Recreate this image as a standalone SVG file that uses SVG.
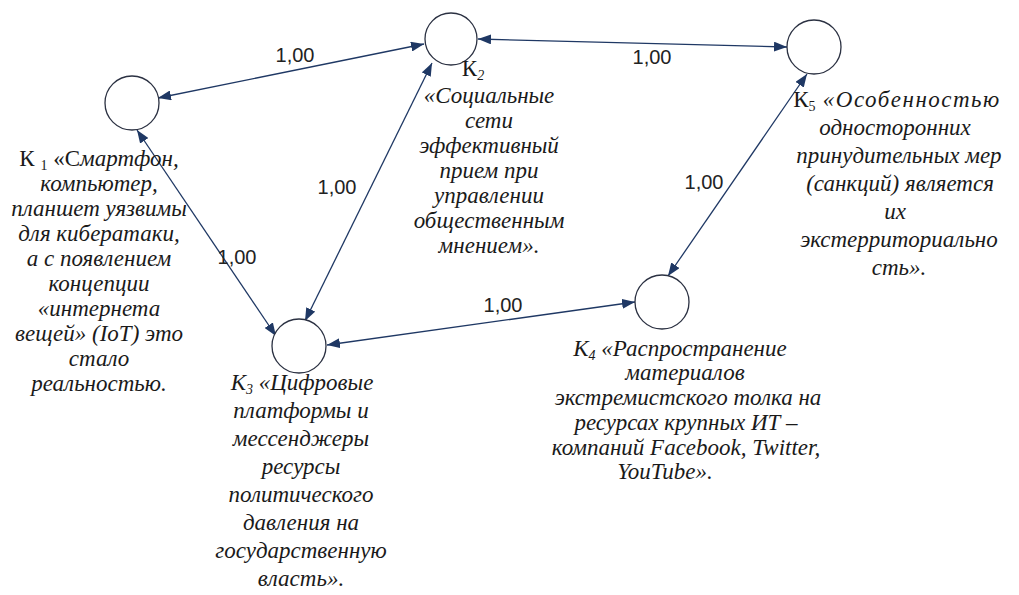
<svg xmlns="http://www.w3.org/2000/svg" width="1019" height="595" viewBox="0 0 1019 595">
<style>
.bg{fill:#ffffff}
.node{fill:#ffffff;stroke:#2b3142;stroke-width:1.3}
.edge{stroke:#1f3864;stroke-width:1.3;fill:none;marker-start:url(#ah);marker-end:url(#ah)}
.lbl{font-family:"Liberation Sans",Arial,sans-serif;font-size:20px;fill:#222;text-anchor:middle}
.t{font-family:"Liberation Serif","Times New Roman",serif;font-size:23px;font-style:italic;fill:#1a1a1a;text-anchor:middle}
.up{font-style:normal}
.sub{font-size:14px}
</style>
<defs>
<marker id="ah" markerUnits="userSpaceOnUse" markerWidth="13" markerHeight="10" refX="13" refY="5" orient="auto-start-reverse">
<path d="M0,0 L13,5 L0,10 z" fill="#1f3864"/>
</marker>
</defs>
<rect class="bg" x="0" y="0" width="1019" height="595"/>
<g id="connectors">
<line class="edge" x1="158" y1="98" x2="424" y2="44"/>
<line class="edge" x1="478" y1="39" x2="787" y2="47"/>
<line class="edge" x1="137" y1="130" x2="276" y2="336"/>
<line class="edge" x1="432" y1="63" x2="305" y2="321"/>
<line class="edge" x1="807" y1="74" x2="668" y2="276"/>
<line class="edge" x1="327" y1="345" x2="635" y2="302"/>
<text class="lbl" x="295" y="62">1,00</text>
<text class="lbl" x="652" y="64">1,00</text>
<text class="lbl" x="237" y="264">1,00</text>
<text class="lbl" x="337" y="194">1,00</text>
<text class="lbl" x="704" y="189">1,00</text>
<text class="lbl" x="503" y="312">1,00</text>
</g>
<g id="K1">
<circle class="node" cx="132" cy="103" r="27"/>
<text class="t" x="99" y="166"><tspan class="up">К </tspan><tspan class="up sub" dy="4">1</tspan><tspan class="up" dy="-4">  «С</tspan>мартфон,</text>
<text class="t" x="99" y="191">компьютер,</text>
<text class="t" x="99" y="216">планшет уязвимы</text>
<text class="t" x="99" y="241">для кибератаки,</text>
<text class="t" x="99" y="266">а с появлением</text>
<text class="t" x="99" y="291">концепции</text>
<text class="t" x="99" y="316">«интернета</text>
<text class="t" x="99" y="341">вещей» (IoT) это</text>
<text class="t" x="99" y="366">стало</text>
<text class="t" x="99" y="391">реальностью.</text>
</g>
<g id="K2">
<circle class="node" cx="451" cy="39" r="26"/>
<text class="t" x="473" y="76"><tspan class="up">К</tspan><tspan class="sub" dy="4">2</tspan></text>
<text class="t" x="489" y="103">«Социальные</text>
<text class="t" x="489" y="128">сети</text>
<text class="t" x="489" y="153">эффективный</text>
<text class="t" x="489" y="178">прием при</text>
<text class="t" x="489" y="203">управлении</text>
<text class="t" x="489" y="228">общественным</text>
<text class="t" x="489" y="253">мнением».</text>
</g>
<g id="K5">
<circle class="node" cx="814" cy="47" r="27"/>
<text class="t" x="897" y="107"><tspan class="up">К</tspan><tspan class="up sub" dy="4">5</tspan><tspan dy="-4" letter-spacing="1.5">  «Особенностью</tspan></text>
<text class="t" x="895" y="135">односторонних</text>
<text class="t" x="899" y="163">принудительных мер</text>
<text class="t" x="900" y="191">(санкций) является</text>
<text class="t" x="895" y="219">их</text>
<text class="t" x="899" y="247">экстерриториально</text>
<text class="t" x="899" y="275">сть».</text>
</g>
<g id="K3">
<circle class="node" cx="299" cy="346" r="27"/>
<text class="t" x="302" y="390">К<tspan class="sub" dy="4">3</tspan><tspan dy="-4"> «Цифровые</tspan></text>
<text class="t" x="301" y="418">платформы и</text>
<text class="t" x="301" y="446">мессенджеры</text>
<text class="t" x="301" y="474">ресурсы</text>
<text class="t" x="301" y="502">политического</text>
<text class="t" x="301" y="530">давления на</text>
<text class="t" x="301" y="558">государственную</text>
<text class="t" x="301" y="586">власть».</text>
</g>
<g id="K4">
<circle class="node" cx="662" cy="302" r="27"/>
<text class="t" x="680" y="356">К<tspan class="sub" dy="4">4</tspan><tspan dy="-4">  «Распространение</tspan></text>
<text class="t" x="685" y="380">материалов</text>
<text class="t" x="688" y="405">экстремистского толка на</text>
<text class="t" x="686" y="430">ресурсах крупных ИТ –</text>
<text class="t" x="686" y="455">компаний Facebook, Twitter,</text>
<text class="t" x="665" y="479">YouTube».</text>
</g>
</svg>
